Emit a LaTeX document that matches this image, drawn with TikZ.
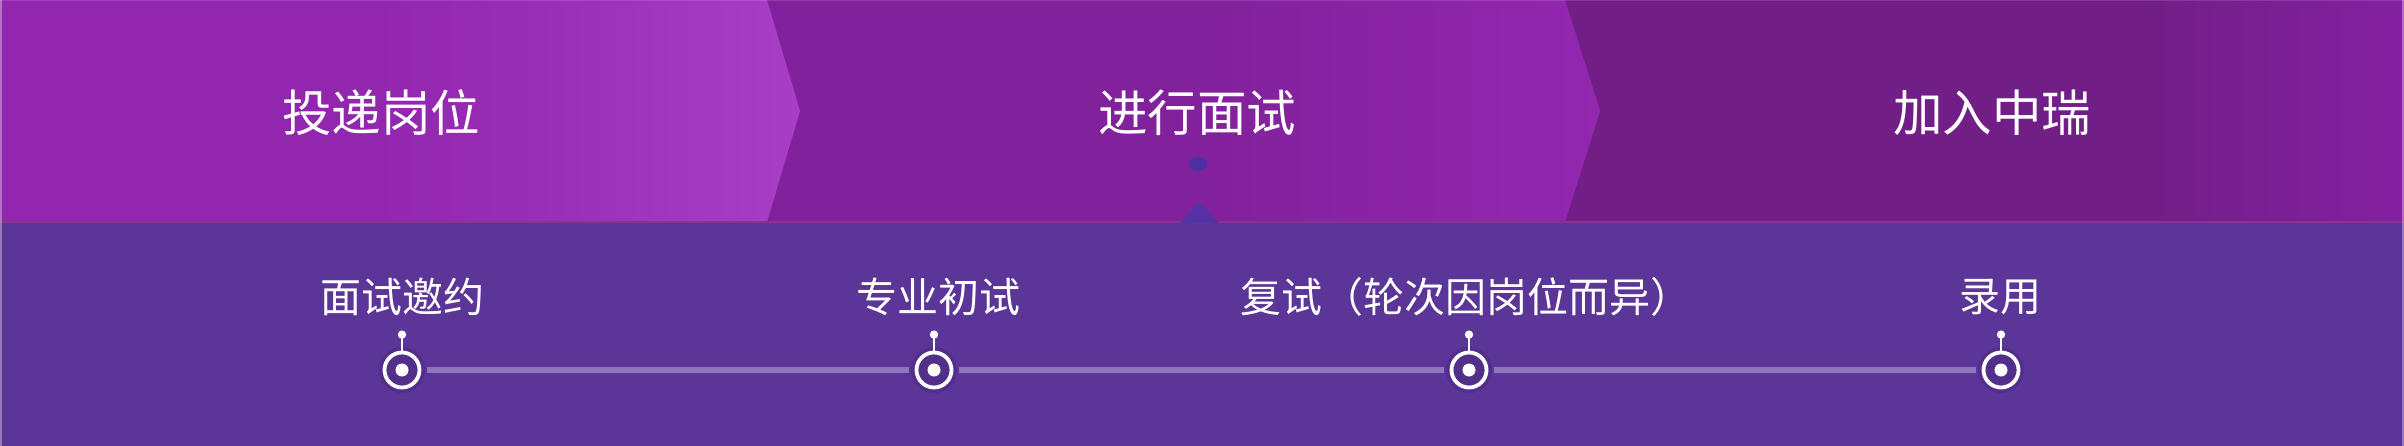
\documentclass[tikz,border=0pt]{standalone}
\usepackage{fontspec}
\newfontfamily\cjk{Noto Sans CJK SC}
\definecolor{botc}{HTML}{5B3597}
\definecolor{s1a}{HTML}{9226AE}
\definecolor{s1b}{HTML}{A73EC5}
\definecolor{s2a}{HTML}{82219C}
\definecolor{s2b}{HTML}{9327B0}
\definecolor{s3a}{HTML}{721E87}
\definecolor{s3b}{HTML}{8420A1}
\definecolor{divc}{HTML}{8C3092}
\definecolor{dotc}{HTML}{4E2EA3}
\definecolor{tric}{HTML}{5631A6}
\definecolor{trackc}{HTML}{8F76BB}
\definecolor{haloc}{HTML}{3E2270}
\begin{document}
\begin{tikzpicture}[x=1pt,y=-1pt,
  toptext/.style={text=white,font=\cjk\fontsize{49.5}{56}\selectfont,inner sep=0pt},
  bottext/.style={text=white,font=\cjk\fontsize{41}{48}\selectfont,inner sep=0pt},
  ring/.style={circle,draw=white,line width=3.8pt,minimum size=35pt,inner sep=0pt},
  track/.style={draw=trackc,line width=6.5pt,shorten <=6pt,shorten >=6pt},
  stem/.style={draw=white,line width=2.6pt},
]
\useasboundingbox (0,0) rectangle (2404,446);
% bands
\fill[botc] (0,222) rectangle (2404,446);
\fill[s3a] (1500,0) rectangle (2404,222);
\shade[left color=s3a,right color=s3b] (2150,0) rectangle (2404,222);
\fill[s2a] (767,0) -- (1565,0) -- (1600,111) -- (1565,222) -- (767,222) -- cycle;
\shade[left color=s2a,right color=s2b] (1200,0) -- (1565,0) -- (1600,111) -- (1565,222) -- (1200,222) -- cycle;
\fill[s1a] (0,0) -- (767,0) -- (800,111) -- (767,222) -- (0,222) -- cycle;
\shade[left color=s1a,right color=s1b] (380,0) -- (767,0) -- (800,111) -- (767,222) -- (380,222) -- cycle;
\draw[divc,line width=1.5pt] (0,222) -- (2404,222);
% edges
\draw[white,opacity=0.35,line width=2pt] (1,0) -- (1,446);
\draw[white,opacity=0.35,line width=2pt] (2403,0) -- (2403,446);
\draw[white,opacity=0.12,line width=1.5pt] (0,0.75) -- (2404,0.75);
% pointer
\fill[dotc] (1198,164) ellipse (9 and 7.5);
\fill[tric] (1180,223) -- (1199,201) -- (1219,223) -- cycle;
% top labels
\node[toptext] (p1) at (381,113) {投递岗位};
\node[toptext] (p2) at (1197,113) {进行面试};
\node[toptext] (p3) at (1992,113) {加入中瑞};
% bottom labels
\node[bottext] (b1) at (402,297) {面试邀约};
\node[bottext] (b2) at (938,297) {专业初试};
\node[bottext] (b3) at (1466,297) {复试（轮次因岗位而异）};
\node[bottext] (b4) at (2000,297) {录用};
% markers
\foreach \i/\x in {1/402,2/934,3/1469,4/2001}{
  \fill[haloc,opacity=0.3] (\x,370) circle (23);
  \node[ring] (m\i) at (\x,370) {};
  \fill[white] (m\i.center) circle (6.5);
  \draw[stem] (m\i.north) -- ++(0,-16) coordinate (s\i);
  \fill[white] (s\i) circle (4.2);
}
\draw[track] (m1) -- (m2);
\draw[track] (m2) -- (m3);
\draw[track] (m3) -- (m4);
\end{tikzpicture}
\end{document}
